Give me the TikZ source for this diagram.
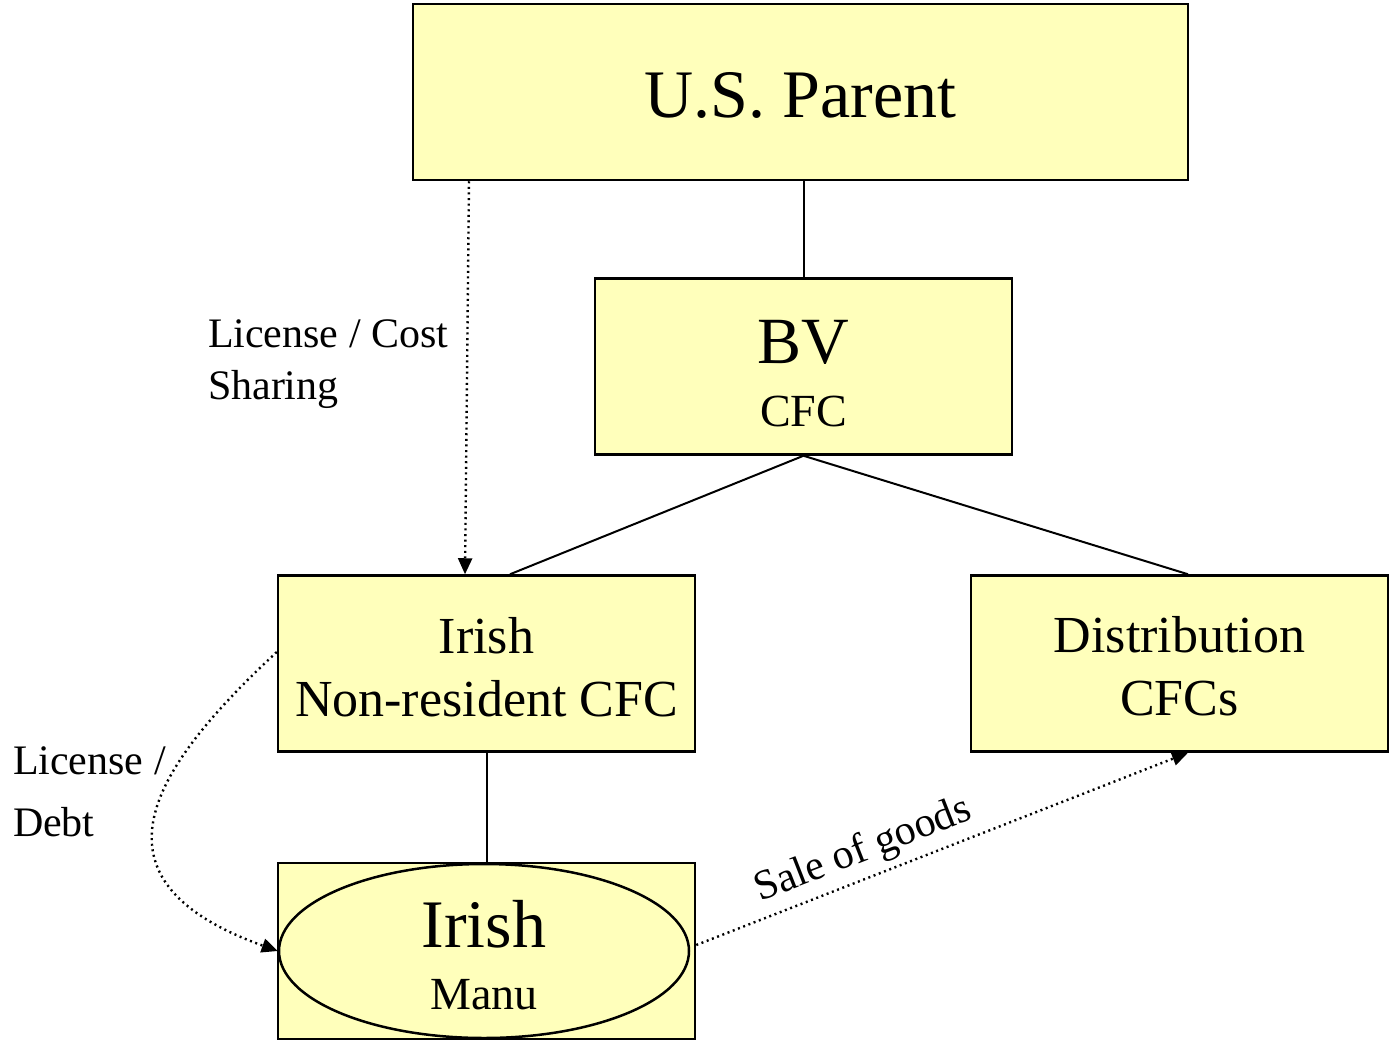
\documentclass[tikz,border=0pt]{standalone}
\usepackage{fontspec}
\setmainfont{Liberation Serif}
\usetikzlibrary{shapes.geometric,arrows.meta}

\definecolor{boxyellow}{RGB}{255,255,187}
\newcommand{\boxstrut}[1]{\rule{0pt}{#1}}

\begin{document}
\begin{tikzpicture}[
		x=1pt, y=1pt,
		line width=2pt,
		box/.style={draw, fill=boxyellow, line width=2.5pt, minimum width=417, minimum height=176, inner sep=0pt, align=center},
		link/.style={dash pattern=on 2pt off 3.6pt, line width=2.4pt, -{Triangle[length=16pt,width=14pt]}},
		note/.style={font=\fontsize{42}{52}\selectfont, align=left, anchor=north west, inner sep=0pt},
		]
		
		\useasboundingbox (0,0) rectangle (1390,-1042);
		
		\node[box, minimum width=775, font=\fontsize{68}{70}\selectfont] (parent) at (800.5,-92) {\boxstrut{52pt}U.S. Parent};
		\node[box, font=\fontsize{46}{63}\selectfont] (bv) at (803.5,-366.5) {\boxstrut{58pt}{\fontsize{66}{66}\selectfont BV}\\CFC};
		\node[box, font=\fontsize{52}{63}\selectfont] (irish) at (486.5,-663.5) {\boxstrut{43pt}Irish\\Non-resident CFC};
		\node[box, font=\fontsize{52}{63}\selectfont] (dist) at (1179.5,-663.5) {\boxstrut{41.5pt}Distribution\\CFCs};
		\node[box] (manu) at (486.5,-951) {};
		\node[ellipse, draw, fill=boxyellow, line width=2.5pt, minimum width=410, minimum height=174, inner sep=0pt, align=center, font=\fontsize{46}{62}\selectfont] (oval) at (484,-951) {\boxstrut{56pt}{\fontsize{68}{68}\selectfont Irish}\\Manu};
		
		% ownership lines
		\draw (parent.south -| bv.north) -- (bv.north);
		\draw (bv.south) -- ([xshift=23.5]irish.north);
		\draw (bv.south) -- ([xshift=8.5]dist.north);
		\draw (irish.south) -- (manu.north);
		
		% flows
		\draw[link] ([xshift=-331.5]parent.south) -- ([xshift=-21.5]irish.north);
		\node[note] (cost) at (207,-319) {License / Cost\\Sharing};
		
		\draw[link] ([yshift=11.5]irish.west) .. controls (150,-770) and (80,-880) .. (oval.west);
		\node[note, font=\fontsize{42}{62}\selectfont] (debt) at (12,-746) {License /\\Debt};
		
		\draw[link] ([yshift=6]manu.east) -- node[sloped, above=3pt, pos=0.36, font=\fontsize{42}{50}\selectfont] {Sale of goods} ([xshift=8.5]dist.south);
		
	\end{tikzpicture}
\end{document}
